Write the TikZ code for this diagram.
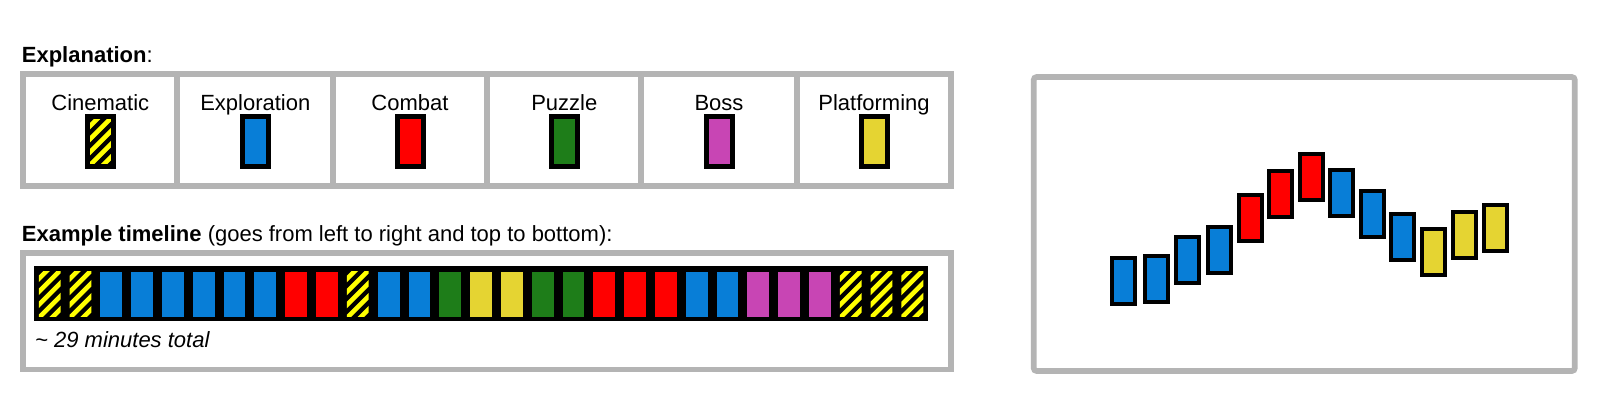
\documentclass[tikz,border=0pt]{standalone}
\usepackage{fontspec}
\setmainfont{Liberation Sans}
\definecolor{explC}{HTML}{087ED7}
\definecolor{combC}{HTML}{FF0000}
\definecolor{puzzC}{HTML}{1E7D19}
\definecolor{bossC}{HTML}{C845B4}
\definecolor{platC}{HTML}{E5D432}
\definecolor{cineY}{HTML}{FFFF00}
\definecolor{frameC}{HTML}{B4B4B4}
\tikzset{
  cexpl/.style={fill=explC},
  ccomb/.style={fill=combC},
  cpuzz/.style={fill=puzzC},
  cboss/.style={fill=bossC},
  cplat/.style={fill=platC},
  ccine/.style={fill=black, path picture={
      \foreach \k in {-6,...,6}{
        \draw[cineY, line width=4.6pt]
          ([xshift=\k*13pt-40pt, yshift=-40pt]path picture bounding box.center) -- ++(80pt,80pt);
      }}},
  frame/.style={draw=frameC, line width=5.7pt},
  lgsw/.style={draw=black, line width=5pt, minimum width=26pt, minimum height=50pt, inner sep=0pt},
  tlblk/.style={inner sep=0pt, minimum width=21.8pt, minimum height=45pt},
  rpblk/.style={draw=black, line width=4pt, minimum width=23pt, minimum height=46pt, inner sep=0pt},
  txt/.style={inner sep=0pt, font=\fontsize{22}{26}\selectfont, text=black},
}
\begin{document}
\begin{tikzpicture}[x=1pt,y=-1pt]
\useasboundingbox[fill=white] (0,0) rectangle (1606,408);

% ---------- Explanation ----------
\node[txt, anchor=base west] (expltitle) at (21.7,62.3) {\textbf{Explanation}:};
\draw[frame] (23.3,74) rectangle (951.2,185.8);
\foreach \dx in {177.3,333,487.3,641,797}
  \draw[frame, line cap=butt] (\dx,74) -- (\dx,185.8);

\foreach \cx/\lab/\sty [count=\i] in {100.3/Cinematic/ccine, 255.3/Exploration/cexpl, 410/Combat/ccomb, 564.3/Puzzle/cpuzz, 719/Boss/cboss, 874/Platforming/cplat}{
  \node[txt, anchor=base] (lab\i) at (\cx,110) {\lab};
  \node[lgsw,\sty] (sw\i) at (\cx,141.7) {};
}

% ---------- Example timeline ----------
\node[txt, anchor=base west] (tltitle) at (21.7,241.7) {\textbf{Example timeline} (goes from left to right and top to bottom):};
\draw[frame] (23.3,253) rectangle (951.2,369.5);
\node[fill=black, inner sep=0pt, minimum width=893.5pt, minimum height=55.3pt] (bar) at (481.05,293.65) {};
\foreach \s [count=\i from 0] in {ccine,ccine,cexpl,cexpl,cexpl,cexpl,cexpl,cexpl,ccomb,ccomb,ccine,cexpl,cexpl,cpuzz,cplat,cplat,cpuzz,cpuzz,ccomb,ccomb,ccomb,cexpl,cexpl,cboss,cboss,cboss,ccine,ccine,ccine}{
  \node[tlblk,\s] (t\i) at ({34.3+30.81*(\i+0.5)},294) {};
}
\node[txt, anchor=base west] (total) at (35,347.3) {\itshape\textasciitilde\ 29 minutes total};

% ---------- Right panel ----------
\draw[frame, rounded corners=3pt] (1033.7,77) rectangle (1574.8,371);
\foreach \x/\y/\s [count=\i] in {1123.7/280.7/cexpl, 1156/279/cexpl, 1187.8/260/cexpl, 1219.7/250/cexpl, 1250.7/217.7/ccomb, 1280.8/194.3/ccomb, 1311.3/176.7/ccomb, 1341.3/193.3/cexpl, 1372/214/cexpl, 1402.5/236.7/cexpl, 1433.7/252.3/cplat, 1464.2/234.7/cplat, 1495.8/227.5/cplat}{
  \node[rpblk,\s] (r\i) at (\x,\y) {};
}
\end{tikzpicture}
\end{document}
